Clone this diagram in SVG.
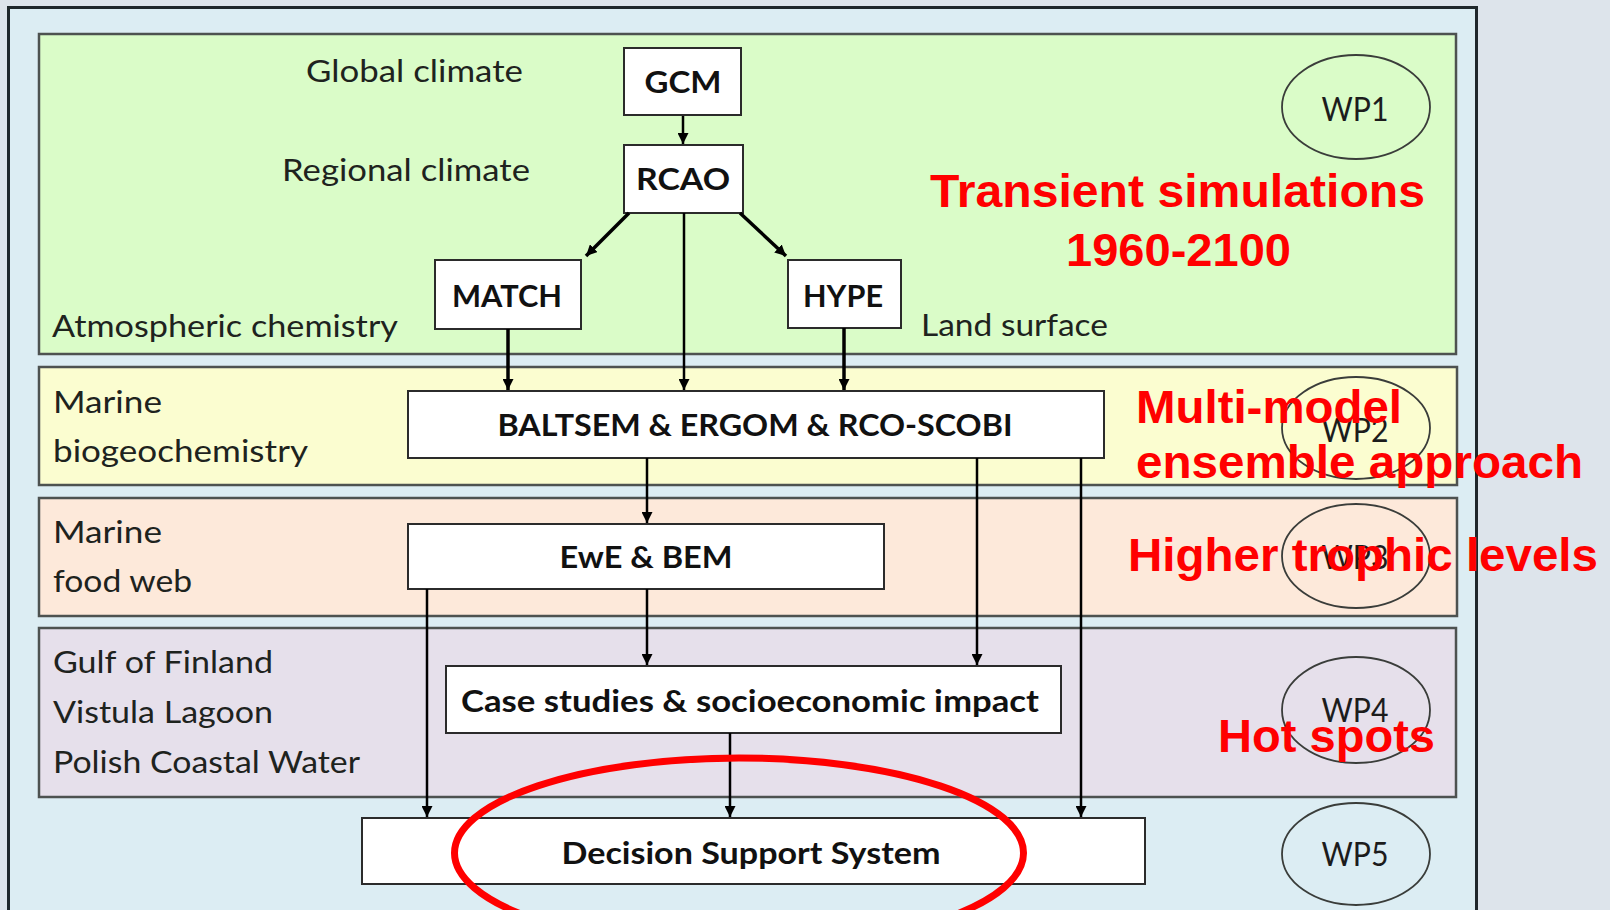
<svg xmlns="http://www.w3.org/2000/svg" width="1610" height="910" viewBox="0 0 1610 910">
<defs>
<style>
.band{stroke:#4d5250;stroke-width:2.5}
.box{fill:#ffffff;stroke:#2b2b2b;stroke-width:2}
.lbl{font-family:Lato,"Liberation Sans",sans-serif;font-size:30px;fill:#1e231e}
.btxt{font-family:Lato,"Liberation Sans",sans-serif;font-weight:bold;font-size:31px;fill:#111;text-anchor:middle}
.wp{fill:none;stroke:#3a3d3a;stroke-width:1.8}
.wptxt{font-family:Lato,"Liberation Sans",sans-serif;font-size:32px;fill:#1c1c1c;text-anchor:middle}
.red{font-family:"Liberation Sans",Arial,sans-serif;font-weight:bold;font-size:47px;fill:#ff0000}
.c{stroke:#000;fill:none;stroke-width:2.5}
.ct{stroke:#000;fill:none;stroke-width:3.5}
</style>
<marker id="ah" viewBox="0 0 10 10" refX="10" refY="5" markerWidth="11" markerHeight="11" markerUnits="userSpaceOnUse" orient="auto">
<path d="M0,0 L10,5 L0,10 z" fill="#000"/>
</marker>
</defs>

<rect x="0" y="0" width="1610" height="910" fill="#dde4eb"/>
<rect id="frame" x="8.5" y="7.5" width="1468" height="930" fill="#dcedf3" stroke="#1f272b" stroke-width="3"/>

<g id="band-wp1">
<rect class="band" x="39" y="34" width="1417" height="320" fill="#dafcc8"/>
<text class="lbl" x="306" y="82" textLength="217" lengthAdjust="spacingAndGlyphs">Global climate</text>
<text class="lbl" x="282" y="181" textLength="248" lengthAdjust="spacingAndGlyphs">Regional climate</text>
<text class="lbl" x="52" y="337" textLength="346" lengthAdjust="spacingAndGlyphs">Atmospheric chemistry</text>
<text class="lbl" x="921" y="336" textLength="187" lengthAdjust="spacingAndGlyphs">Land surface</text>
</g>
<g id="band-wp2">
<rect class="band" x="39" y="367" width="1418" height="118" fill="#fbfdd0"/>
<text class="lbl" x="53" y="413" textLength="109" lengthAdjust="spacingAndGlyphs">Marine</text>
<text class="lbl" x="53" y="462" textLength="255" lengthAdjust="spacingAndGlyphs">biogeochemistry</text>
</g>
<g id="band-wp3">
<rect class="band" x="39" y="498" width="1418" height="118" fill="#fde9da"/>
<text class="lbl" x="53" y="543" textLength="109" lengthAdjust="spacingAndGlyphs">Marine</text>
<text class="lbl" x="53" y="592" textLength="139" lengthAdjust="spacingAndGlyphs">food web</text>
</g>
<g id="band-wp4">
<rect class="band" x="39" y="628" width="1417" height="169" fill="#e6e0eb"/>
<text class="lbl" x="53" y="673" textLength="220" lengthAdjust="spacingAndGlyphs">Gulf of Finland</text>
<text class="lbl" x="53" y="723" textLength="220" lengthAdjust="spacingAndGlyphs">Vistula Lagoon</text>
<text class="lbl" x="53" y="773" textLength="307" lengthAdjust="spacingAndGlyphs">Polish Coastal Water</text>
</g>

<g id="wp1"><ellipse class="wp" cx="1356" cy="107" rx="74" ry="52"/><text class="wptxt" x="1355" y="121" textLength="67" lengthAdjust="spacingAndGlyphs">WP1</text></g>
<g id="wp2"><ellipse class="wp" cx="1356" cy="428" rx="74" ry="51"/><text class="wptxt" x="1355" y="442" textLength="67" lengthAdjust="spacingAndGlyphs">WP2</text></g>
<g id="wp3"><ellipse class="wp" cx="1356" cy="556" rx="74" ry="52"/><text class="wptxt" x="1355" y="569" textLength="67" lengthAdjust="spacingAndGlyphs">WP3</text></g>
<g id="wp4"><ellipse class="wp" cx="1356" cy="710" rx="74" ry="53"/><text class="wptxt" x="1355" y="722" textLength="67" lengthAdjust="spacingAndGlyphs">WP4</text></g>
<g id="wp5"><ellipse class="wp" cx="1356" cy="854" rx="74" ry="51"/><text class="wptxt" x="1355" y="866" textLength="67" lengthAdjust="spacingAndGlyphs">WP5</text></g>

<g id="gcm"><rect class="box" x="624" y="48" width="117" height="67"/><text class="btxt" x="683" y="93" textLength="77" lengthAdjust="spacingAndGlyphs">GCM</text></g>
<g id="rcao"><rect class="box" x="624" y="145" width="119" height="68"/><text class="btxt" x="683" y="190" textLength="94" lengthAdjust="spacingAndGlyphs">RCAO</text></g>
<g id="match"><rect class="box" x="435" y="260" width="146" height="69"/><text class="btxt" x="507" y="307" textLength="110" lengthAdjust="spacingAndGlyphs">MATCH</text></g>
<g id="hype"><rect class="box" x="788" y="260" width="113" height="68"/><text class="btxt" x="843" y="307" textLength="80" lengthAdjust="spacingAndGlyphs">HYPE</text></g>
<g id="baltsem"><rect class="box" x="408" y="391" width="696" height="67"/><text class="btxt" x="755" y="436" textLength="515" lengthAdjust="spacingAndGlyphs">BALTSEM &amp; ERGOM &amp; RCO-SCOBI</text></g>
<g id="ewe"><rect class="box" x="408" y="524" width="476" height="65"/><text class="btxt" x="646" y="568" textLength="173" lengthAdjust="spacingAndGlyphs">EwE &amp; BEM</text></g>
<g id="case"><rect class="box" x="446" y="666" width="615" height="67"/><text class="btxt" x="750" y="712" textLength="578" lengthAdjust="spacingAndGlyphs">Case studies &amp; socioeconomic impact</text></g>
<g id="dss"><rect class="box" x="362" y="818" width="783" height="66"/><text class="btxt" x="751" y="864" textLength="379" lengthAdjust="spacingAndGlyphs">Decision Support System</text></g>

<g id="connectors">
<line class="c" x1="683" y1="116" x2="683" y2="144" marker-end="url(#ah)"/>
<line class="ct" x1="629" y1="213" x2="586" y2="256" marker-end="url(#ah)"/>
<line class="ct" x1="740" y1="213" x2="786" y2="256" marker-end="url(#ah)"/>
<line class="c" x1="684" y1="213" x2="684" y2="390" marker-end="url(#ah)"/>
<line class="ct" x1="508" y1="329" x2="508" y2="390" marker-end="url(#ah)"/>
<line class="ct" x1="844" y1="328" x2="844" y2="390" marker-end="url(#ah)"/>
<line class="c" x1="647" y1="458" x2="647" y2="523" marker-end="url(#ah)"/>
<line class="c" x1="977" y1="458" x2="977" y2="665" marker-end="url(#ah)"/>
<line class="c" x1="1081" y1="458" x2="1081" y2="817" marker-end="url(#ah)"/>
<line class="c" x1="647" y1="589" x2="647" y2="665" marker-end="url(#ah)"/>
<line class="c" x1="427" y1="589" x2="427" y2="817" marker-end="url(#ah)"/>
<line class="c" x1="730" y1="733" x2="730" y2="817" marker-end="url(#ah)"/>
</g>

<g id="annotations">
<text class="red" x="930" y="207" textLength="495" lengthAdjust="spacingAndGlyphs">Transient simulations</text>
<text class="red" x="1066" y="266" textLength="225" lengthAdjust="spacingAndGlyphs">1960-2100</text>
<text class="red" x="1136" y="423" textLength="266" lengthAdjust="spacingAndGlyphs">Multi-model</text>
<text class="red" x="1136" y="478" textLength="447" lengthAdjust="spacingAndGlyphs">ensemble approach</text>
<text class="red" x="1128" y="571" textLength="470" lengthAdjust="spacingAndGlyphs">Higher trophic levels</text>
<text class="red" x="1218" y="752" textLength="217" lengthAdjust="spacingAndGlyphs">Hot spots</text>
<ellipse cx="739" cy="853" rx="284.5" ry="95" fill="none" stroke="#ff0000" stroke-width="7"/>
</g>
</svg>
